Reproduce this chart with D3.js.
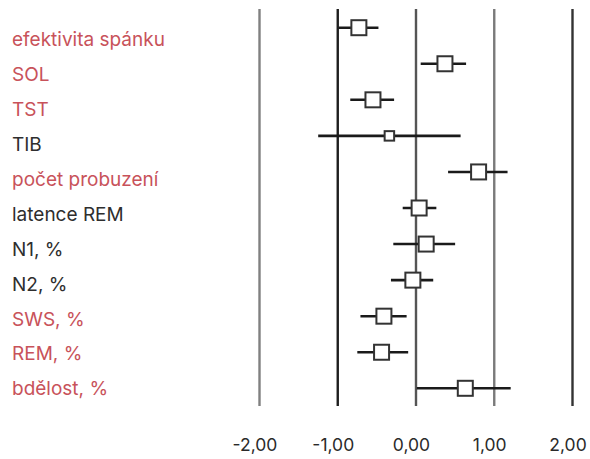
<!DOCTYPE html>
<html>
<head>
<meta charset="utf-8">
<script src="https://cdn.jsdelivr.net/npm/d3@7"></script>
<style>
  html, body { margin: 0; padding: 0; background: #fff; }
  svg { display: block; font-family: Inter, "Noto Sans", sans-serif; }
</style>
</head>
<body>
<svg id="chart" width="590" height="459"></svg>
<script>
const labels = ["efektivita spánku", "SOL", "TST", "TIB", "počet probuzení", "latence REM",
  "N1, %", "N2, %", "SWS, %", "REM, %", "bdělost, %"];
const significant = [true, true, true, false, true, false, false, false, true, true, true];
const estimates = [-0.73, 0.37, -0.55, -0.34, 0.80, 0.04, 0.13, -0.04, -0.41, -0.44, 0.63];
const lower = [-0.99, 0.06, -0.84, -1.25, 0.41, -0.17, -0.29, -0.32, -0.71, -0.75, 0.01];
const upper = [-0.48, 0.64, -0.28, 0.57, 1.17, 0.26, 0.50, 0.22, -0.12, -0.10, 1.21];
const weights = [1, 1, 1, 0.4, 1, 1, 1, 1, 1, 1, 1];
const ticks = [-2, -1, 0, 1, 2];
const tickLabels = ["-2,00", "-1,00", "0,00", "1,00", "2,00"];

const svg = d3.select("#chart");
const rows = labels.map((label, i) => ({
  label, sig: significant[i], est: estimates[i], lo: lower[i], hi: upper[i], w: weights[i]
}));

const x = d3.scaleLinear().domain([-2, 2]).range([259.5, 572.5]);
const y = d3.scalePoint().domain(labels).range([27.7, 388.3]);
const yText = d3.scalePoint().domain(labels).range([39.5, 388.5]);
const side = d3.scaleSqrt().domain([0, 1]).range([0, 15]);
const lineColor = { "-2": "#808080", "-1": "#1e1e1e", "0": "#555", "1": "#7a7a7a", "2": "#333" };

// reference lines
svg.append("g").selectAll("line")
  .data(ticks)
  .join("line")
  .attr("x1", d => x(d)).attr("x2", d => x(d))
  .attr("y1", 9).attr("y2", 406)
  .attr("stroke", d => lineColor[d])
  .attr("stroke-width", 2.4);

// tick labels via axis (labels sit a little left of their lines)
const axis = svg.append("g")
  .attr("transform", "translate(-5,437)")
  .call(d3.axisBottom(x).tickValues(ticks).tickFormat((d, i) => tickLabels[i]).tickSize(0).tickPadding(0));
axis.select(".domain").remove();
axis.selectAll("text")
  .attr("font-family", "Inter, 'Noto Sans', sans-serif")
  .attr("font-size", 17.5)
  .attr("fill", "#2a2a2a")
  .attr("dy", "0.35em")
  .attr("y", 8);

// category labels
svg.append("g").selectAll("text")
  .data(rows)
  .join("text")
  .attr("x", 12)
  .attr("y", d => yText(d.label))
  .attr("dy", "0.36em")
  .attr("font-size", 19)
  .attr("fill", d => d.sig ? "#c8525a" : "#2e2e2e")
  .text(d => d.label);

// confidence intervals
const marks = svg.append("g");
marks.selectAll("line")
  .data(rows)
  .join("line")
  .attr("x1", d => x(d.lo)).attr("x2", d => x(d.hi))
  .attr("y1", d => y(d.label)).attr("y2", d => y(d.label))
  .attr("stroke", "#1a1a1a")
  .attr("stroke-width", 2.6);

// point estimates
marks.selectAll("rect")
  .data(rows)
  .join("rect")
  .attr("x", d => x(d.est) - side(d.w) / 2)
  .attr("y", d => y(d.label) - side(d.w) / 2)
  .attr("width", d => side(d.w))
  .attr("height", d => side(d.w))
  .attr("fill", "#fff")
  .attr("stroke", "#333")
  .attr("stroke-width", 2);
</script>
</body>
</html>
